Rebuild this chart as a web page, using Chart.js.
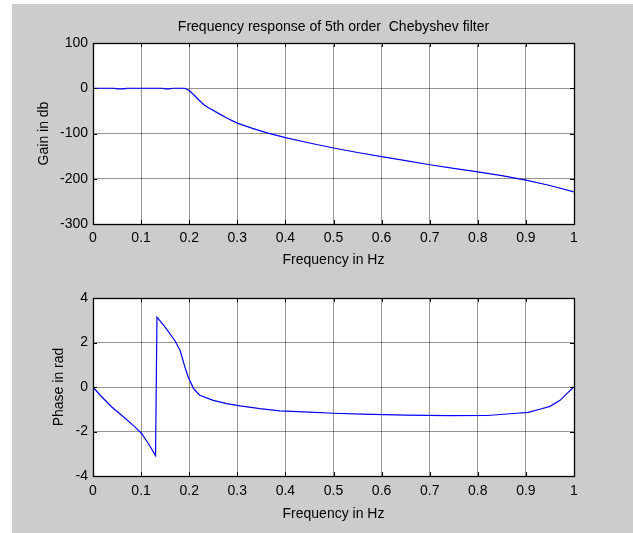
<!DOCTYPE html>
<html>
<head>
<meta charset="utf-8">
<script src="https://cdn.jsdelivr.net/npm/chart.js@4/dist/chart.umd.min.js"></script>
<style>
  html, body { margin: 0; padding: 0; background: #ffffff; width: 633px; height: 533px; overflow: hidden; }
  #fig { position: absolute; left: 12px; top: 4px; width: 621px; height: 529px; background: #cccccc; }
  canvas { position: absolute; left: 0; }
  #c1 { top: 0; }
  #c2 { top: 270px; }
</style>
</head>
<body>
<div id="fig"></div>
<canvas id="c1" width="633" height="270"></canvas>
<canvas id="c2" width="633" height="263"></canvas>
<script>
// ---- Data ----
const titleText = 'Frequency response of 5th order  Chebyshev filter';
const xLabel = 'Frequency in Hz';
const gainLabel = 'Gain in db';
const phaseLabel = 'Phase in rad';

const xTicks = [0, 0.1, 0.2, 0.3, 0.4, 0.5, 0.6, 0.7, 0.8, 0.9, 1];
const xTickLabels = ['0', '0.1', '0.2', '0.3', '0.4', '0.5', '0.6', '0.7', '0.8', '0.9', '1'];
const gainTicks = [-300, -200, -100, 0, 100];
const gainTickLabels = ['-300', '-200', '-100', '0', '100'];
const phaseTicks = [-4, -2, 0, 2, 4];
const phaseTickLabels = ['-4', '-2', '0', '2', '4'];

const gainFreq = [0, 0.02, 0.045, 0.05, 0.065, 0.07, 0.10, 0.145, 0.15, 0.16, 0.165, 0.19,
  0.20, 0.21, 0.22, 0.23, 0.24, 0.26, 0.28, 0.30, 0.33, 0.36, 0.40, 0.45, 0.50, 0.55,
  0.60, 0.65, 0.70, 0.75, 0.80, 0.85, 0.90, 0.95, 1.00];
const gainDb = [0, 0, 0, -1.5, -1.5, 0, 0, 0, -1.5, -1.5, 0, 0,
  -5, -15, -26, -36, -43, -55, -67, -77, -88, -98, -109, -121, -132, -142,
  -151, -160, -169, -177, -185, -193, -203, -215, -229];

const phaseFreq = [0, 0.015, 0.039, 0.063, 0.087, 0.101, 0.115, 0.130, 0.133, 0.150, 0.170,
  0.181, 0.191, 0.198, 0.209, 0.222, 0.250, 0.278, 0.306, 0.347, 0.389, 0.45, 0.50,
  0.56, 0.65, 0.74, 0.82, 0.88, 0.905, 0.929, 0.950, 0.971, 0.985, 1.0];
const phaseRad = [0, -0.37, -0.90, -1.34, -1.79, -2.09, -2.54, -3.08, 3.14, 2.69, 2.09,
  1.65, 0.90, 0.45, -0.07, -0.37, -0.60, -0.75, -0.85, -0.97, -1.07, -1.13, -1.18,
  -1.22, -1.26, -1.29, -1.28, -1.18, -1.14, -1.00, -0.87, -0.60, -0.30, 0];

// ---- Styling ----
const FONT = { family: "'Liberation Sans', Arial, Helvetica, sans-serif", size: 14 };
const GRID = 'rgba(0,0,0,0.42)';
const LINE = '#0000ff';

const framePlugin = {
  id: 'frame',
  beforeDraw(chart) {
    const { ctx, chartArea: a } = chart;
    ctx.save();
    ctx.fillStyle = '#ffffff';
    ctx.fillRect(a.left, a.top, a.right - a.left, a.bottom - a.top);
    ctx.restore();
  },
  afterDraw(chart) {
    const { ctx, chartArea: a, scales } = chart;
    ctx.save();
    ctx.strokeStyle = '#000000';
    ctx.lineWidth = 1;
    // inward tick marks on all four sides
    ctx.beginPath();
    scales.x.ticks.forEach(t => {
      const px = Math.round(scales.x.getPixelForValue(t.value)) + 0.5;
      ctx.moveTo(px, a.bottom); ctx.lineTo(px, a.bottom - 4);
      ctx.moveTo(px, a.top); ctx.lineTo(px, a.top + 4);
    });
    scales.y.ticks.forEach(t => {
      const py = Math.round(scales.y.getPixelForValue(t.value)) + 0.5;
      ctx.moveTo(a.left, py); ctx.lineTo(a.left + 4, py);
      ctx.moveTo(a.right, py); ctx.lineTo(a.right - 4, py);
    });
    ctx.stroke();
    ctx.lineWidth = 1.3;
    ctx.strokeRect(a.left + 0.5, a.top + 0.5, a.right - a.left, a.bottom - a.top);
    ctx.restore();
  }
};

function makeChart(canvasId, xs, ys, yMin, yMax, yTicks, yTickLabels, yLabel, opts) {
  const pts = xs.map((x, i) => ({ x: x, y: ys[i] }));
  return new Chart(document.getElementById(canvasId), {
    type: 'line',
    data: {
      datasets: [{
        data: pts,
        borderColor: LINE,
        borderWidth: 1.2,
        pointRadius: 0,
        tension: 0,
        fill: false
      }]
    },
    options: {
      responsive: false,
      animation: false,
      devicePixelRatio: 1,
      layout: { padding: opts.layoutPadding },
      plugins: {
        legend: { display: false },
        tooltip: { enabled: false },
        title: opts.title ? {
          display: true,
          text: opts.title,
          color: '#000000',
          fullSize: false,
          font: Object.assign({}, FONT, { weight: 'normal' }),
          padding: opts.titlePadding
        } : { display: false }
      },
      scales: {
        x: {
          type: 'linear',
          min: 0, max: 1,
          afterBuildTicks: s => { s.ticks = xTicks.map(v => ({ value: v })); },
          afterFit: s => { s.height = opts.xHeight; },
          ticks: {
            color: '#000000', font: FONT, padding: opts.xTickPad, maxRotation: 0,
            autoSkip: false,
            callback: (v, i) => xTickLabels[i]
          },
          grid: { color: GRID, lineWidth: 1, drawTicks: false },
          border: { display: false },
          title: {
            display: true, text: xLabel, color: '#000000', font: FONT,
            padding: { top: 0, bottom: opts.xTitlePad }
          }
        },
        y: {
          type: 'linear',
          min: yMin, max: yMax,
          afterBuildTicks: s => { s.ticks = yTicks.map(v => ({ value: v })); },
          afterFit: s => { s.width = 93; },
          ticks: {
            color: '#000000', font: FONT, padding: 5,
            autoSkip: false,
            callback: (v, i) => yTickLabels[i]
          },
          grid: { color: GRID, lineWidth: 1, drawTicks: false },
          border: { display: false },
          title: {
            display: true, text: yLabel, color: '#000000', font: FONT,
            padding: { top: opts.yTitlePad, bottom: 0 }
          }
        }
      }
    },
    plugins: [framePlugin]
  });
}

makeChart('c1', gainFreq, gainDb, -300, 100, gainTicks, gainTickLabels, gainLabel, {
  title: titleText,
  titlePadding: { top: 18.6, bottom: 7.6 },
  layoutPadding: { left: 0, right: 59, top: 0, bottom: 0 },
  xHeight: 46, xTickPad: 6, xTitlePad: 1, yTitlePad: 35.6
});

makeChart('c2', phaseFreq, phaseRad, -4, 4, phaseTicks, phaseTickLabels, phaseLabel, {
  title: null,
  layoutPadding: { left: 0, right: 59, top: 28, bottom: 0 },
  xHeight: 57, xTickPad: 7, xTitlePad: 10, yTitlePad: 51
});
</script>
</body>
</html>
